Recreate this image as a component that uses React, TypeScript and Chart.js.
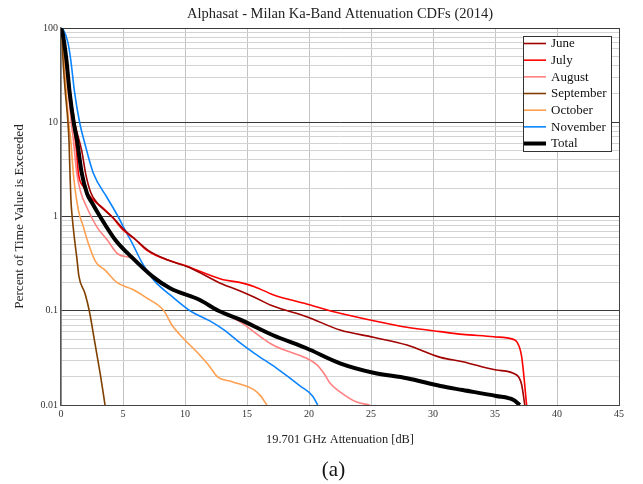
import React, { useEffect, useRef } from 'react';
import { Chart, registerables } from 'chart.js';

Chart.register(...registerables);

const SERIF = '"Liberation Serif", "Times New Roman", serif';

const chartTitle = 'Alphasat - Milan Ka-Band Attenuation CDFs (2014)';
const xAxisTitle = '19.701 GHz Attenuation [dB]';
const yAxisTitle = 'Percent of Time Value is Exceeded';
const panelLabel = '(a)';

const seriesNames = ['June', 'July', 'August', 'September', 'October', 'November', 'Total'];
const seriesColors = ['#A00000', '#FF0000', '#FF8080', '#804000', '#FFA050', '#0A84FF', '#000000'];

const xTickValues = [0, 5, 10, 15, 20, 25, 30, 35, 40, 45];
const yDecades = [0.01, 0.1, 1, 10, 100];
const yTickLabels = ['0.01', '0.1', '1', '10', '100'];
const yMinorSteps = [2, 3, 4, 5, 6, 7, 8, 9];

const juneDb = [0, 0.15, 0.45, 0.75, 1.1, 1.67, 2.0, 2.4, 2.9, 3.4, 4.2, 5.1, 6.0, 7.0, 8.5, 10.3, 13.0, 14.4, 15.6, 17.1, 19.8, 22.5, 25.2, 27.9, 30.6, 32.4, 35.1, 36.75, 37.15, 37.4];
const junePct = [100, 85, 46.5, 20.6, 10, 5.0, 2.8, 1.8, 1.4, 1.2, 0.97, 0.72, 0.57, 0.44, 0.35, 0.289, 0.192, 0.163, 0.139, 0.112, 0.0865, 0.0625, 0.0523, 0.0433, 0.032, 0.0288, 0.0235, 0.0208, 0.0164, 0.01];

const julyDb = [0, 0.15, 0.4, 0.68, 0.98, 1.25, 1.4, 1.8, 2.6, 3.3, 4.1, 5.0, 6.0, 6.9, 8.0, 9.9, 13.0, 14.4, 15.6, 17.1, 19.8, 22.5, 25.2, 27.9, 30.6, 32.4, 34.9, 36.4, 36.75, 37.15, 37.55];
const julyPct = [100, 85, 46.5, 20.6, 10, 5.0, 2.9, 2.07, 1.5, 1.26, 1.0, 0.72, 0.57, 0.44, 0.37, 0.305, 0.215, 0.2, 0.18, 0.148, 0.118, 0.094, 0.0785, 0.0667, 0.06, 0.0562, 0.053, 0.05, 0.047, 0.0326, 0.01];

const augDb = [0, 0.15, 0.38, 0.6, 0.83, 1.0, 1.27, 1.6, 2.07, 2.88, 3.7, 4.6, 5.7, 7.4, 9.45, 11.2, 12.7, 14.4, 17.1, 19.8, 20.6, 21.2, 21.7, 22.5, 23.8, 24.9];
const augPct = [100, 85, 46.5, 20.6, 10, 6.5, 2.9, 1.8, 1.26, 0.78, 0.57, 0.4, 0.36, 0.225, 0.155, 0.132, 0.1, 0.0766, 0.0433, 0.0313, 0.027, 0.0217, 0.017, 0.0138, 0.0108, 0.01];

const sepDb = [0, 0.08, 0.16, 0.35, 0.56, 0.65, 0.72, 0.8, 0.9, 1.13, 1.27, 1.45, 1.93, 2.28, 2.74, 3.2, 3.55];
const sepPct = [100, 80, 46.5, 20.6, 10, 6.1, 3.0, 1.5, 1.0, 0.52, 0.37, 0.23, 0.153, 0.1, 0.045, 0.02, 0.01];

const octDb = [0, 0.08, 0.24, 0.43, 0.62, 0.8, 1.0, 1.4, 1.8, 2.2, 2.8, 3.55, 4.5, 5.8, 6.9, 8.3, 8.9, 9.8, 11.0, 12.0, 12.6, 13.8, 15.6, 16.1, 16.6];
const octPct = [100, 80, 46.5, 20.6, 10, 6.1, 2.8, 1.17, 0.78, 0.52, 0.33, 0.27, 0.2, 0.168, 0.137, 0.1, 0.072, 0.052, 0.036, 0.0255, 0.02, 0.0177, 0.0144, 0.0125, 0.01];

const novDb = [0, 0.16, 0.56, 0.78, 1.1, 1.5, 1.9, 2.6, 3.7, 4.6, 5.16, 5.75, 6.5, 7.5, 8.8, 10.4, 12.0, 13.2, 14.5, 15.6, 17.4, 19.3, 20.3, 20.7];
const novPct = [100, 97, 70, 46.5, 20.6, 10, 6.1, 2.9, 1.6, 1.0, 0.72, 0.52, 0.33, 0.21, 0.147, 0.1, 0.078, 0.062, 0.045, 0.0353, 0.0245, 0.0159, 0.0124, 0.01];

const totalDb = [0, 0.15, 0.43, 0.7, 1.02, 1.3, 1.67, 2.1, 2.5, 3.15, 4.4, 5.7, 7.4, 8.8, 11.2, 12.7, 14.4, 17.1, 19.8, 22.5, 25.2, 27.9, 30.6, 32.4, 35.1, 36.5, 37.0];
const totalPct = [100, 85, 46.5, 20.6, 10, 6.3, 2.9, 1.75, 1.4, 1.0, 0.56, 0.37, 0.23, 0.173, 0.13, 0.1, 0.081, 0.055, 0.04, 0.0277, 0.022, 0.0192, 0.0159, 0.0144, 0.01245, 0.0113, 0.01];

const seriesDb = [juneDb, julyDb, augDb, sepDb, octDb, novDb, totalDb];
const seriesPct = [junePct, julyPct, augPct, sepPct, octPct, novPct, totalPct];

const isDecade = (v: number) => {
  const l = Math.log10(v);
  return Math.abs(l - Math.round(l)) < 1e-6;
};

const boxLegend = {
  id: 'boxLegend',
  afterDraw(chart: any) {
    const { ctx, chartArea } = chart;
    const w = 89;
    const h = 116;
    const x0 = Math.round(chartArea.right - 7 - w);
    const y0 = Math.round(chartArea.top + 8);
    ctx.save();
    ctx.fillStyle = '#ffffff';
    ctx.fillRect(x0, y0, w, h);
    ctx.strokeStyle = '#333333';
    ctx.lineWidth = 1;
    ctx.strokeRect(x0 + 0.5, y0 + 0.5, w - 1, h - 1);
    ctx.font = `13px ${SERIF}`;
    ctx.textBaseline = 'middle';
    ctx.textAlign = 'left';
    chart.data.datasets.forEach((ds: any, i: number) => {
      const y = y0 + 7.5 + i * 16.67;
      ctx.strokeStyle = ds.borderColor;
      ctx.lineWidth = ds.borderWidth;
      ctx.beginPath();
      ctx.moveTo(x0 + 1, y);
      ctx.lineTo(x0 + 23, y);
      ctx.stroke();
      ctx.fillStyle = '#111111';
      ctx.fillText(ds.label, x0 + 28, y + 0.5);
    });
    ctx.restore();
  },
};

export default function App() {
  const ref = useRef<HTMLCanvasElement>(null);

  useEffect(() => {
    const canvas = ref.current;
    if (!canvas) return;
    const datasets = seriesNames.map((name, i) => ({
      label: name,
      data: seriesDb[i].map((x, j) => ({ x, y: seriesPct[i][j] })),
      borderColor: seriesColors[i],
      backgroundColor: seriesColors[i],
      borderWidth: i === 6 ? 4 : 1.6,
      pointRadius: 0,
      fill: false,
      cubicInterpolationMode: 'monotone' as const,
      order: i === 6 ? 0 : 1,
    }));

    const chart = new Chart(canvas, {
      type: 'line',
      data: { datasets },
      options: {
        animation: false,
        responsive: false,
        events: [],
        layout: { padding: { left: 0, right: 24, top: 0, bottom: 0 } },
        plugins: {
          legend: { display: false },
          tooltip: { enabled: false },
          title: {
            display: true,
            text: chartTitle,
            fullSize: false,
            color: '#222222',
            font: { family: SERIF, size: 14.5, weight: 'normal' },
            padding: { top: 5, bottom: 5.6 },
          },
        },
        scales: {
          x: {
            type: 'linear',
            min: 0,
            max: 45,
            afterBuildTicks: (s: any) => {
              s.ticks = xTickValues.map((v) => ({ value: v }));
            },
            afterFit: (s: any) => {
              s.height = 79;
            },
            grid: {
              drawTicks: false,
              lineWidth: 1,
              color: (c: any) => (c.tick && c.tick.value === 45 ? '#444444' : '#c4c4c4'),
            },
            border: { display: true, color: '#444444', width: 1 },
            ticks: {
              autoSkip: false,
              maxRotation: 0,
              padding: 3,
              color: '#333333',
              font: { family: SERIF, size: 10 },
              callback: (v: any) => String(v),
            },
            title: {
              display: true,
              text: xAxisTitle,
              color: '#222222',
              font: { family: SERIF, size: 12.4 },
              padding: { top: 0, bottom: 37 },
            },
          },
          y: {
            type: 'logarithmic',
            min: 0.01,
            max: 100,
            afterBuildTicks: (s: any) => {
              const t: { value: number }[] = [];
              yDecades.forEach((d, k) => {
                t.push({ value: d });
                if (k < yDecades.length - 1) {
                  yMinorSteps.forEach((m) => t.push({ value: +(d * m).toPrecision(6) }));
                }
              });
              s.ticks = t;
            },
            afterFit: (s: any) => {
              s.width = 61;
            },
            grid: {
              drawTicks: false,
              lineWidth: 1,
              color: (c: any) => (c.tick && isDecade(c.tick.value) ? '#3a3a3a' : '#d3d3d3'),
            },
            border: { display: true, color: '#555555', width: 1.5 },
            ticks: {
              autoSkip: false,
              padding: 3,
              color: '#333333',
              font: { family: SERIF, size: 10 },
              callback: (v: any) => {
                const idx = yDecades.findIndex((d) => Math.abs(d - Number(v)) < d * 1e-6);
                return idx >= 0 ? yTickLabels[idx] : '';
              },
            },
            title: {
              display: true,
              text: yAxisTitle,
              color: '#222222',
              font: { family: SERIF, size: 13.2 },
              padding: { top: 12, bottom: 0 },
            },
          },
        },
      },
      plugins: [boxLegend],
    } as any);

    return () => chart.destroy();
  }, []);

  return (
    <div style={{ position: 'absolute', left: 0, top: 0, width: 643, height: 484, background: '#ffffff' }}>
      <canvas ref={ref} width={643} height={484} style={{ display: 'block' }} />
      <div
        style={{
          position: 'absolute',
          left: 303,
          top: 457,
          width: 61,
          textAlign: 'center',
          fontFamily: SERIF,
          fontSize: 21,
          lineHeight: '24px',
          color: '#111111',
        }}
      >
        {panelLabel}
      </div>
    </div>
  );
}
